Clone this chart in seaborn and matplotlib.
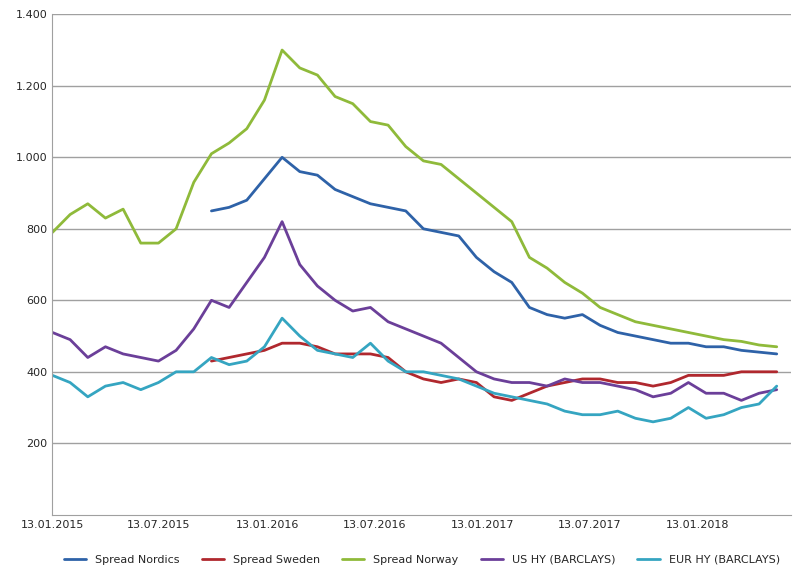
import matplotlib
matplotlib.use("Agg")
import matplotlib.pyplot as plt
import matplotlib.ticker as mticker
import seaborn as sns
import pandas as pd
import numpy as np

nan = np.nan
# roughly monthly sampling
dates = pd.date_range("2015-01-13", periods=42, freq="30D")

spread_nordics = [nan] * 9 + [850, 860, 880, 940, 1000, 960, 950, 910, 890, 870, 860, 850, 800,
                              790, 780, 720, 680, 650, 580, 560, 550, 560, 530, 510, 500, 490,
                              480, 480, 470, 470, 460, 455, 450]
spread_sweden = [nan] * 9 + [430, 440, 450, 460, 480, 480, 470, 450, 450, 450, 440, 400, 380,
                             370, 380, 370, 330, 320, 340, 360, 370, 380, 380, 370, 370, 360,
                             370, 390, 390, 390, 400, 400, 400]
spread_norway = [790, 840, 870, 830, 855, 760, 760, 800, 930, 1010, 1040, 1080, 1160, 1300,
                 1250, 1230, 1170, 1150, 1100, 1090, 1030, 990, 980, 940, 900, 860, 820, 720,
                 690, 650, 620, 580, 560, 540, 530, 520, 510, 500, 490, 485, 475, 470]
us_hy = [510, 490, 440, 470, 450, 440, 430, 460, 520, 600, 580, 650, 720, 820, 700, 640, 600,
         570, 580, 540, 520, 500, 480, 440, 400, 380, 370, 370, 360, 380, 370, 370, 360, 350,
         330, 340, 370, 340, 340, 320, 340, 350]
eur_hy = [390, 370, 330, 360, 370, 350, 370, 400, 400, 440, 420, 430, 470, 550, 500, 460, 450,
          440, 480, 430, 400, 400, 390, 380, 360, 340, 330, 320, 310, 290, 280, 280, 290, 270,
          260, 270, 300, 270, 280, 300, 310, 360]

series = {
    "Spread Nordics": spread_nordics,
    "Spread Sweden": spread_sweden,
    "Spread Norway": spread_norway,
    "US HY (BARCLAYS)": us_hy,
    "EUR HY (BARCLAYS)": eur_hy,
}
colors = ["#2e62a8", "#b0282e", "#8fba3a", "#6b3f99", "#35a5c1"]
tick_dates = pd.to_datetime(["2015-01-13", "2015-07-13", "2016-01-13", "2016-07-13",
                             "2017-01-13", "2017-07-13", "2018-01-13"])

df = pd.DataFrame(series, index=dates).reset_index(names="date")
long = df.melt(id_vars="date", var_name="serie", value_name="spread")

sns.set_style("white")
plt.rcParams["font.family"] = ["DejaVu Sans"]
fig, ax = plt.subplots(figsize=(8.07, 5.72), dpi=100)
sns.lineplot(data=long, x="date", y="spread", hue="serie", palette=colors, lw=2, ax=ax)

ax.set_ylim(0, 1400)
ax.set_yticks(range(200, 1401, 200))
ax.yaxis.set_major_formatter(mticker.FuncFormatter(lambda v, p: f"{int(v):,}".replace(",", ".")))
ax.set_xlim(tick_dates[0], pd.Timestamp("2018-06-20"))
ax.set_xticks(tick_dates)
ax.set_xticklabels([d.strftime("%d.%m.%Y") for d in tick_dates])
ax.grid(axis="y", color="#a0a0a0", lw=1)
ax.tick_params(labelsize=8, length=0)
for s in ["top", "right"]:
    ax.spines[s].set_visible(False)
ax.spines["left"].set_color("#a0a0a0")
ax.spines["bottom"].set_color("#a0a0a0")
ax.set_xlabel("")
ax.set_ylabel("")
ax.legend(loc="upper center", bbox_to_anchor=(0.5, -0.06), ncol=5, frameon=False, fontsize=8)

fig.subplots_adjust(left=0.065, right=0.98, top=0.975, bottom=0.1)
fig.savefig("out.png")
